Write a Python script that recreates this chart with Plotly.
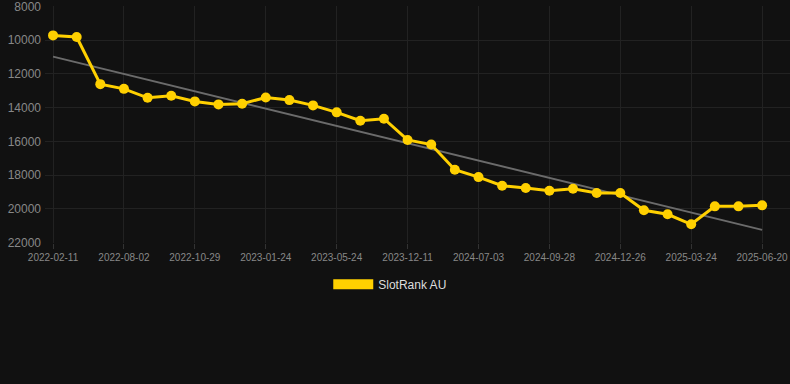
import numpy as np
import plotly.graph_objects as go

dates = [
    "2022-02-11", "2022-04-08", "2022-06-05", "2022-08-02", "2022-08-31", "2022-09-29",
    "2022-10-29", "2022-11-27", "2022-12-26", "2023-01-24", "2023-03-04", "2023-04-14",
    "2023-05-24", "2023-07-30", "2023-10-05", "2023-12-11", "2024-02-17", "2024-04-26",
    "2024-07-03", "2024-08-01", "2024-08-30", "2024-09-28", "2024-10-28", "2024-11-27",
    "2024-12-26", "2025-01-24", "2025-02-22", "2025-03-24", "2025-04-22", "2025-05-21",
    "2025-06-20",
]
rank_values = [
    9713, 9810, 12607, 12885, 13415, 13297, 13630, 13808, 13770, 13395, 13552, 13866,
    14280, 14775, 14657, 15915, 16190, 17687, 18120, 18632, 18770, 18928, 18810, 19063,
    19063, 20090, 20327, 20918, 19855, 19855, 19796,
]
tick_labels = dates[::3]
y_ticks = [8000, 10000, 12000, 14000, 16000, 18000, 20000, 22000]
y_tick_text = [str(v) for v in y_ticks]
series_name = "SlotRank AU"

idx = np.arange(len(rank_values))
slope, intercept = np.polyfit(idx, rank_values, 1)
trend = [slope * i + intercept for i in idx]

YELLOW = "#FFD000"
fig = go.Figure()
fig.add_trace(go.Scatter(
    x=dates, y=trend, mode="lines", line=dict(color="#6b6b6b", width=2),
    showlegend=False, hoverinfo="skip",
))
fig.add_trace(go.Scatter(
    x=dates, y=rank_values, mode="lines+markers", name=series_name,
    line=dict(color=YELLOW, width=3), marker=dict(color=YELLOW, size=10),
    showlegend=False,
))
fig.add_trace(go.Scatter(
    x=[None], y=[None], mode="lines", name=series_name,
    line=dict(color=YELLOW, width=12), showlegend=True,
))

fig.update_layout(
    width=790, height=384,
    paper_bgcolor="#111111", plot_bgcolor="#111111",
    margin=dict(l=45, r=0, t=6, b=141),
    font=dict(family="Liberation Sans, Arial, sans-serif", color="#888888"),
    legend=dict(
        orientation="h", xref="container", yref="container",
        x=0.494, xanchor="center", y=0.26, yanchor="middle",
        font=dict(size=12, color="#dddddd"), itemwidth=40,
        bgcolor="rgba(0,0,0,0)",
    ),
    xaxis=dict(
        type="category", categoryorder="array", categoryarray=dates,
        range=[-0.34, 31.18],
        tickmode="array", tickvals=tick_labels, ticktext=tick_labels,
        showgrid=True, gridcolor="#222222", gridwidth=1,
        ticks="outside", ticklen=5, tickcolor="#333333",
        tickfont=dict(size=10, color="#888888"),
        showline=False, zeroline=False,
    ),
    yaxis=dict(
        range=[22030, 7970], tickmode="array", tickvals=y_ticks, ticktext=y_tick_text,
        showgrid=True, gridcolor="#222222", gridwidth=1,
        tickfont=dict(size=12, color="#888888"),
        zeroline=False, showline=False, ticks="", ticklabelstandoff=3,
        ticklabeloverflow="allow",
    ),
)
fig.write_html(
    "out.html",
    config={"displayModeBar": False},
    post_script="document.body.style.margin='0';document.body.style.overflow='hidden';",
)
